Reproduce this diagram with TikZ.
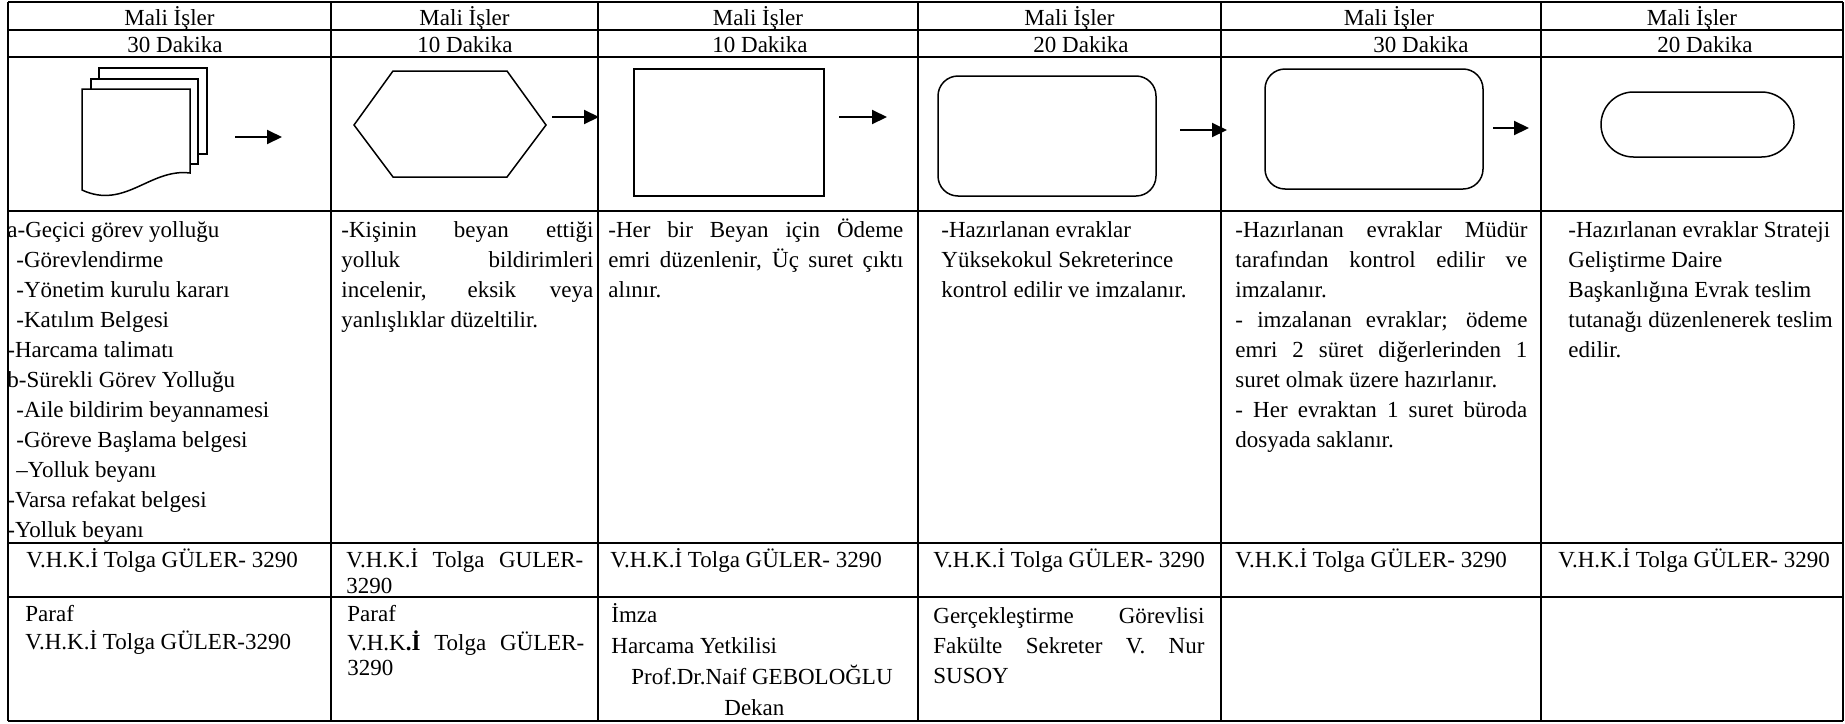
\documentclass[tikz,border=0pt]{standalone}
\usepackage{fontspec}
\setmainfont{Liberation Serif}
\usetikzlibrary{arrows.meta,positioning}
\tikzstyle{tableline}=[line width=1pt]
\tikzstyle{flowbox}=[draw, line width=0.75pt, fill=white]
\tikzstyle{arrow}=[line width=1pt,-{Triangle[length=7.5pt,width=7pt]}]
\tikzstyle{head}=[anchor=base, inner sep=0pt]
\tikzstyle{cell}=[anchor=north west, inner sep=0pt, align=left]
\newcommand{\js}[2]{\makebox[#1][s]{#2}}
\begin{document}
\begin{tikzpicture}[x=0.5pt,y=-0.5pt,font=\fontsize{11.5}{15}\selectfont]
\useasboundingbox (0,0) rectangle (1845,723);

\foreach \x in {8,331,598,918,1221,1541,1843} \draw[tableline] (\x,2) -- (\x,721);
\foreach \y in {2,30,57,211,543,597,721} \draw[tableline] (8,\y) -- (1843,\y);

\node (h1) [head] at (169.5,25) {Mali İşler};
\node (h2) [head] at (464.5,25) {Mali İşler};
\node (h3) [head] at (758,25) {Mali İşler};
\node (h4) [head] at (1069.5,25) {Mali İşler};
\node (h5) [head] at (1389,25) {Mali İşler};
\node (h6) [head] at (1692,25) {Mali İşler};

\node (t1) [head] at (175,52) {30 Dakika};
\node (t2) [head] at (465,52) {10 Dakika};
\node (t3) [head] at (760,52) {10 Dakika};
\node (t4) [head] at (1081,52) {20 Dakika};
\node (t5) [head] at (1421,52) {30 Dakika};
\node (t6) [head] at (1705,52) {20 Dakika};

\draw[flowbox] (99,68) rectangle (207,154);
\draw[flowbox] (91,79) rectangle (198,164);
\draw[flowbox] (82,89) -- (190,89) -- (190,173) .. controls (150,168) and (125,210) .. (82,190) -- cycle;
\draw[flowbox] (354,125) -- (393,71) -- (507,71) -- (546,125) -- (507,177) -- (393,177) -- cycle;
\node (sq) [flowbox, minimum width=95pt, minimum height=63.5pt] at (729,132.5) {};
\node (kontrol) [flowbox, rounded corners=10pt, minimum width=109pt, minimum height=60pt] at (1047,136) {};
\node (imza) [flowbox, rounded corners=10pt, minimum width=109pt, minimum height=60pt] at (1374,129) {};
\node (son) [flowbox, rounded corners=16.25pt, minimum width=96.5pt, minimum height=32.5pt] at (1697.5,124.5) {};

\coordinate (a1) at (235,137); \coordinate (b1) at (282,137);
\coordinate (a2) at (552,117); \coordinate (b2) at (599,117);
\coordinate (a3) at (839,117); \coordinate (b3) at (887,117);
\coordinate (a4) at (1180,130); \coordinate (b4) at (1227,130);
\coordinate (a5) at (1493,128); \coordinate (b5) at (1529,128);
\foreach \i in {1,...,5} \draw[arrow] (a\i) -- (b\i);

\node (d1) [cell] at (7,216) {\strut a-Geçici görev yolluğu\\
\hspace*{4.5pt}-Görevlendirme\\
\hspace*{4.5pt}-Yönetim kurulu kararı\\
\hspace*{4.5pt}-Katılım Belgesi\\
-Harcama talimatı\\
b-Sürekli Görev Yolluğu\\
\hspace*{4.5pt}-Aile bildirim beyannamesi\\
\hspace*{4.5pt}-Göreve Başlama belgesi\\
\hspace*{4.5pt}–Yolluk beyanı\\
-Varsa refakat belgesi\\
-Yolluk beyanı};
\node (d2) [cell] at (341,216) {\strut\js{126pt}{-Kişinin beyan ettiği}\\
\js{126pt}{yolluk bildirimleri}\\
\js{126pt}{incelenir, eksik veya}\\
yanlışlıklar düzeltilir.};
\node (d3) [cell] at (608,216) {\strut\js{147.5pt}{-Her bir Beyan için Ödeme}\\
\js{147.5pt}{emri düzenlenir, Üç suret çıktı}\\
alınır.};
\node (d4) [cell] at (941,216) {\strut -Hazırlanan evraklar\\
Yüksekokul Sekreterince\\
kontrol edilir ve imzalanır.};
\node (d5) [cell] at (1235,216) {\strut\js{146pt}{-Hazırlanan evraklar Müdür}\\
\js{146pt}{tarafından kontrol edilir ve}\\
imzalanır.\\
\js{146pt}{- imzalanan evraklar; ödeme}\\
\js{146pt}{emri 2 süret diğerlerinden 1}\\
suret olmak üzere hazırlanır.\\
\js{146pt}{- Her evraktan 1 suret büroda}\\
dosyada saklanır.};
\node (d6) [cell] at (1568,216) {\strut -Hazırlanan evraklar Strateji\\
Geliştirme Daire\\
Başkanlığına Evrak teslim\\
tutanağı düzenlenerek teslim\\
edilir.};

\node (v1) [cell, font=\fontsize{11.5}{13}\selectfont] at (26,548) {\strut V.H.K.İ Tolga GÜLER- 3290};
\node (v2) [cell, font=\fontsize{11.5}{13}\selectfont] at (346,548) {\strut\js{118.5pt}{V.H.K.İ Tolga GULER-}\\3290};
\node (v3) [cell, font=\fontsize{11.5}{13}\selectfont] at (610,548) {\strut V.H.K.İ Tolga GÜLER- 3290};
\node (v4) [cell, font=\fontsize{11.5}{13}\selectfont] at (933,548) {\strut V.H.K.İ Tolga GÜLER- 3290};
\node (v5) [cell, font=\fontsize{11.5}{13}\selectfont] at (1235,548) {\strut V.H.K.İ Tolga GÜLER- 3290};
\node (v6) [cell, font=\fontsize{11.5}{13}\selectfont] at (1558,548) {\strut V.H.K.İ Tolga GÜLER- 3290};

\node (p1) [cell, font=\fontsize{11.5}{12.5}\selectfont] at (25,603.5) {\strut Paraf\\V.H.K.İ Tolga GÜLER-3290};
\node (p2) [cell, font=\fontsize{11.5}{12.5}\selectfont] at (347,603.5) {\strut Paraf\\\js{118.5pt}{V.H.K\textbf{.İ} Tolga GÜLER-}\\3290};
\node (p3) [cell, font=\fontsize{11.5}{15.5}\selectfont] at (611,600) {\strut İmza\\Harcama Yetkilisi\\
\hspace*{10pt}Prof.Dr.Naif GEBOLOĞLU\\
\hspace*{56.5pt}Dekan};
\node (p4) [cell] at (933,602) {\strut\js{135.5pt}{Gerçekleştirme Görevlisi}\\
\js{135.5pt}{Fakülte Sekreter V. Nur}\\
SUSOY};
\end{tikzpicture}
\end{document}
